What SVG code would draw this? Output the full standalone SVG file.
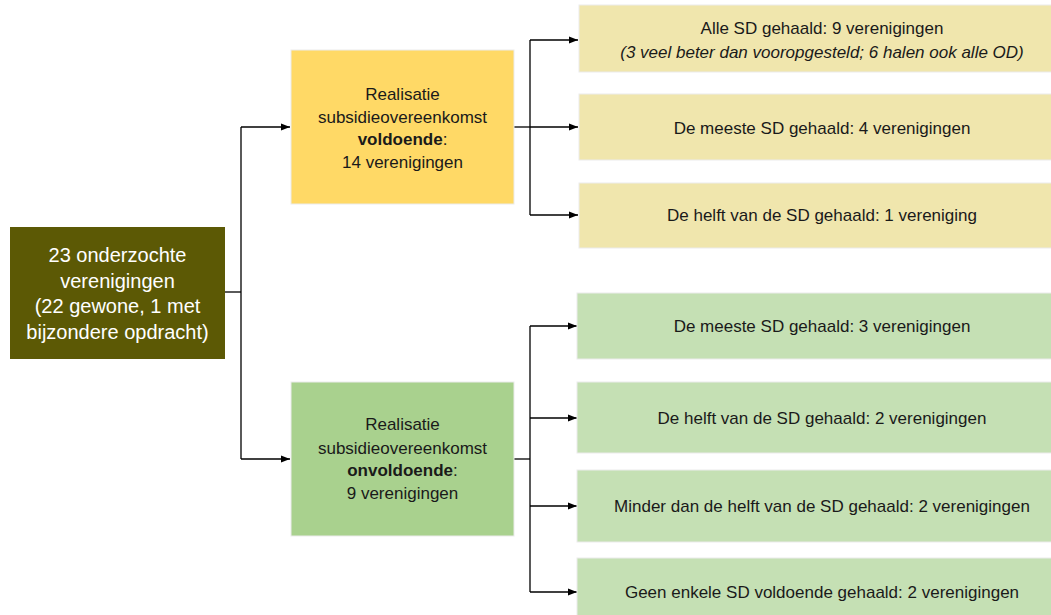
<svg xmlns="http://www.w3.org/2000/svg" width="1051" height="615" viewBox="0 0 1051 615">
<style>
text{font-family:"Liberation Sans",Arial,sans-serif;text-anchor:middle;fill:#1a1a1a}
.t{font-size:17px}
.m{font-size:17px}
.root{font-size:20px;fill:#ffffff}
.b{font-weight:bold}
.box{stroke:#ebebeb;stroke-width:1}
.ln{fill:none;stroke:#000;stroke-width:1.3}
</style>
<defs>
<marker id="ah" markerWidth="10" markerHeight="8" refX="9" refY="4" orient="auto" markerUnits="userSpaceOnUse">
<path d="M0,0.5 L9,4 L0,7.5 Z" fill="#000"/>
</marker>
</defs>
<rect width="1051" height="615" fill="#fff"/>
<g id="connectors">
<path class="ln" d="M225,292 H241"/>
<path class="ln" d="M241,127 V459"/>
<path class="ln" d="M241,127 H290" marker-end="url(#ah)"/>
<path class="ln" d="M241,459 H290" marker-end="url(#ah)"/>
<path class="ln" d="M514,127 H530"/>
<path class="ln" d="M530,40 V215"/>
<path class="ln" d="M530,40 H578" marker-end="url(#ah)"/>
<path class="ln" d="M530,127 H578" marker-end="url(#ah)"/>
<path class="ln" d="M530,215 H578" marker-end="url(#ah)"/>
<path class="ln" d="M514,459 H530"/>
<path class="ln" d="M530,326 V592"/>
<path class="ln" d="M530,326 H577" marker-end="url(#ah)"/>
<path class="ln" d="M530,418 H577" marker-end="url(#ah)"/>
<path class="ln" d="M530,506 H577" marker-end="url(#ah)"/>
<path class="ln" d="M530,592 H577" marker-end="url(#ah)"/>
</g>
<g id="root">
<rect x="10" y="227" width="215" height="132" fill="#5C5905"/>
<text class="root" x="117.5" y="262">23 onderzochte</text>
<text class="root" x="117.5" y="288">verenigingen</text>
<text class="root" x="117.5" y="313">(22 gewone, 1 met</text>
<text class="root" x="117.5" y="339">bijzondere opdracht)</text>
</g>
<g id="voldoende">
<rect class="box" x="291" y="50" width="223" height="154" fill="#FFD966"/>
<text class="m" x="402.5" y="100">Realisatie</text>
<text class="m" x="402.5" y="123">subsidieovereenkomst</text>
<text class="m" x="402.5" y="145"><tspan class="b">voldoende</tspan>:</text>
<text class="m" x="402.5" y="168">14 verenigingen</text>
</g>
<g id="onvoldoende">
<rect class="box" x="291" y="382" width="223" height="154" fill="#A9D18E"/>
<text class="m" x="402.5" y="430">Realisatie</text>
<text class="m" x="402.5" y="454">subsidieovereenkomst</text>
<text class="m" x="402.5" y="476"><tspan class="b">onvoldoende</tspan>:</text>
<text class="m" x="402.5" y="499">9 verenigingen</text>
</g>
<g id="v1">
<rect class="box" x="579" y="5" width="490" height="67" fill="#F0E6AD"/>
<text class="t" x="822" y="34">Alle SD gehaald: 9 verenigingen</text>
<text class="t" x="822" y="58" font-style="italic">(3 veel beter dan vooropgesteld; 6 halen ook alle OD)</text>
</g>
<g id="v2">
<rect class="box" x="579" y="94" width="490" height="66" fill="#F0E6AD"/>
<text class="t" x="822" y="134">De meeste SD gehaald: 4 verenigingen</text>
</g>
<g id="v3">
<rect class="box" x="579" y="183" width="490" height="65" fill="#F0E6AD"/>
<text class="t" x="822" y="221">De helft van de SD gehaald: 1 vereniging</text>
</g>
<g id="o1">
<rect class="box" x="577" y="293" width="490" height="66" fill="#C5E0B4"/>
<text class="t" x="822" y="332">De meeste SD  gehaald: 3 verenigingen</text>
</g>
<g id="o2">
<rect class="box" x="577" y="382" width="490" height="71" fill="#C5E0B4"/>
<text class="t" x="822" y="424">De helft van de SD gehaald: 2 verenigingen</text>
</g>
<g id="o3">
<rect class="box" x="577" y="470" width="490" height="72" fill="#C5E0B4"/>
<text class="t" x="822" y="512">Minder dan de helft van de SD gehaald: 2 verenigingen</text>
</g>
<g id="o4">
<rect class="box" x="577" y="558" width="490" height="70" fill="#C5E0B4"/>
<text class="t" x="822" y="598">Geen enkele SD voldoende gehaald: 2 verenigingen</text>
</g>
</svg>
